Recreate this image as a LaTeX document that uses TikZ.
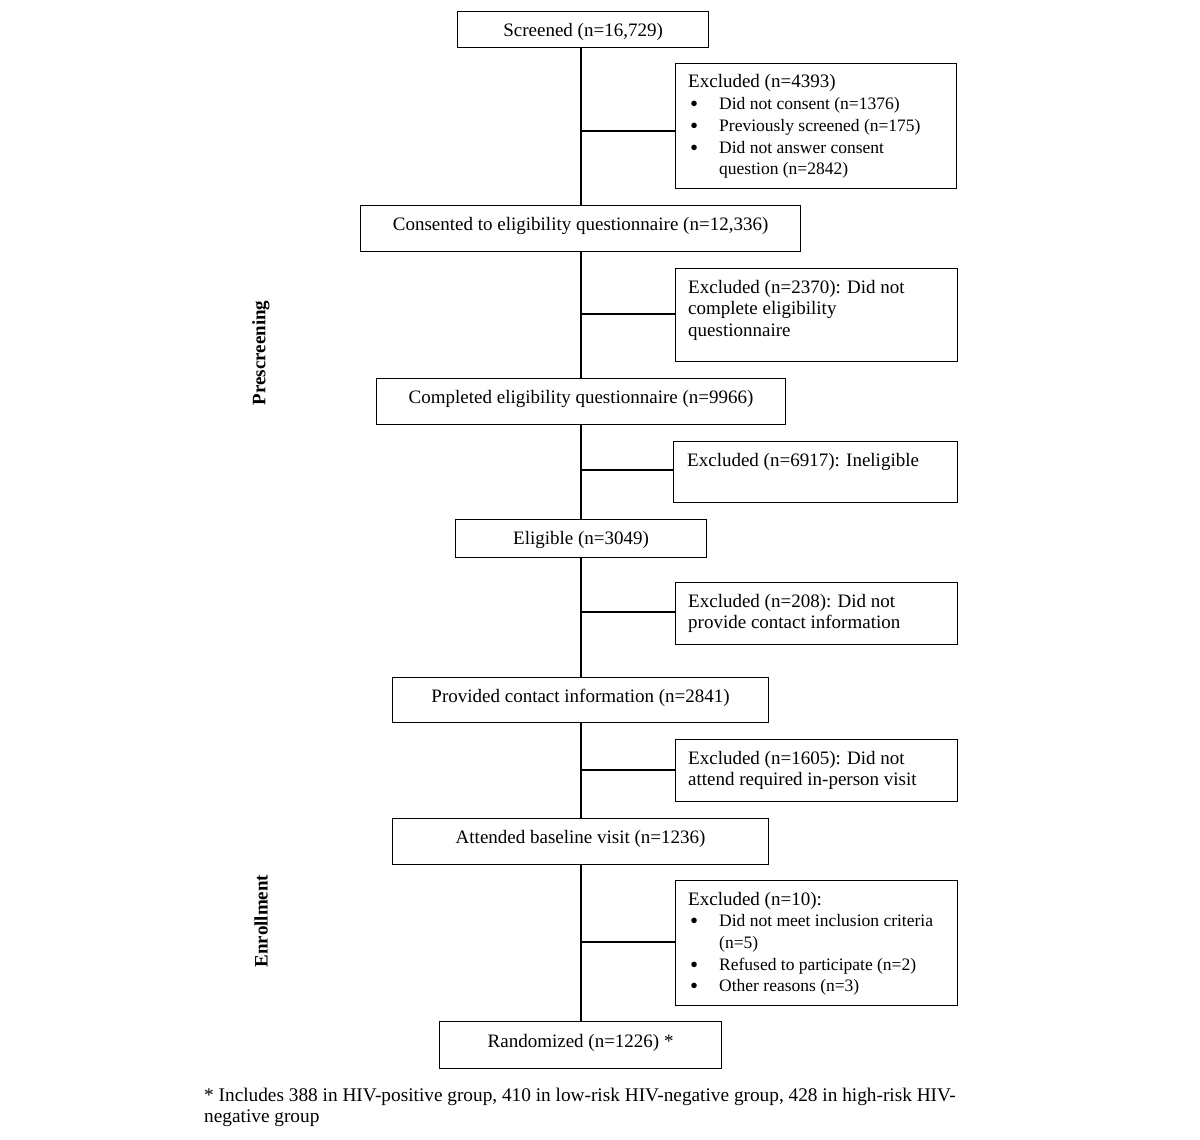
\documentclass[tikz,border=0pt]{standalone}
\usepackage{fontspec}
\setmainfont{Liberation Serif}
\begin{document}
\fontsize{19}{21.7}\selectfont
\begin{tikzpicture}[x=1pt,y=1pt,
  box/.style={draw, line width=1.2pt, inner sep=0pt, anchor=north west},
  txt/.style={inner sep=0pt, anchor=base west},
  ctxt/.style={inner sep=0pt, anchor=base},
  ln/.style={line width=1.2pt},
  side/.style={inner sep=0pt, rotate=90, font=\bfseries}]
\useasboundingbox (0,0) rectangle (1200,-1140);
\newcommand{\bul}[1]{\hspace*{2pt}\makebox[29pt][l]{\raisebox{-2pt}{\fontsize{23}{21.7}\selectfont\textbullet}}{\fontsize{17.5}{21.7}\selectfont #1}}
\newcommand{\cont}[1]{\hspace*{31pt}{\fontsize{17.5}{21.7}\selectfont #1}}
\coordinate (ax) at (581,0);
% main boxes
\node[box, minimum width=251pt, minimum height=36pt] (s) at (457,-11) {};
\node[box, minimum width=440pt, minimum height=46pt] (c) at (360,-205) {};
\node[box, minimum width=409pt, minimum height=46pt] (p) at (376,-378) {};
\node[box, minimum width=251pt, minimum height=38pt] (el) at (455,-519) {};
\node[box, minimum width=376pt, minimum height=45pt] (pc) at (392,-677) {};
\node[box, minimum width=376pt, minimum height=46pt] (ab) at (392,-818) {};
\node[box, minimum width=282pt, minimum height=47pt] (r) at (439,-1021) {};
% excluded boxes
\node[box, minimum width=281pt, minimum height=125pt] (e1) at (675,-63) {};
\node[box, minimum width=282pt, minimum height=93pt] (e2) at (675,-268) {};
\node[box, minimum width=284pt, minimum height=61pt] (e3) at (673,-441) {};
\node[box, minimum width=282pt, minimum height=62pt] (e4) at (675,-582) {};
\node[box, minimum width=282pt, minimum height=62pt] (e5) at (675,-739) {};
\node[box, minimum width=282pt, minimum height=125pt] (e6) at (675,-880) {};
% main texts
\node[ctxt] (st) at ([yshift=-26pt]s.north) {Screened (n=16,729)};
\node[ctxt] (ct) at ([yshift=-25.5pt]c.north) {Consented to eligibility questionnaire (n=12,336)};
\node[ctxt] (pt) at ([yshift=-25.5pt]p.north) {Completed eligibility questionnaire (n=9966)};
\node[ctxt] (elt) at ([yshift=-25.5pt]el.north) {Eligible (n=3049)};
\node[ctxt] (pct) at ([yshift=-25.5pt]pc.north) {Provided contact information (n=2841)};
\node[ctxt] (abt) at ([yshift=-25.5pt]ab.north) {Attended baseline visit (n=1236)};
\node[ctxt] (rt) at ([yshift=-26pt]r.north) {Randomized (n=1226) *};
% excluded texts
\node[txt] (e1t) at ([xshift=13pt,yshift=-25pt]e1.north west) {\parbox[t]{270pt}{Excluded (n=4393)\\
\bul{Did not consent (n=1376)}\\
\bul{Previously screened (n=175)}\\
\bul{Did not answer consent}\\
\cont{question (n=2842)}}};
\node[txt] (e2t) at ([xshift=13pt,yshift=-25pt]e2.north west) {\parbox[t]{270pt}{Excluded (n=2370): Did not\\complete eligibility\\questionnaire}};
\node[txt] (e3t) at ([xshift=14pt,yshift=-25pt]e3.north west) {\parbox[t]{270pt}{Excluded (n=6917): Ineligible}};
\node[txt] (e4t) at ([xshift=13pt,yshift=-25pt]e4.north west) {\parbox[t]{270pt}{Excluded (n=208): Did not\\provide contact information}};
\node[txt] (e5t) at ([xshift=13pt,yshift=-25pt]e5.north west) {\parbox[t]{270pt}{Excluded (n=1605): Did not\\attend required in-person visit}};
\node[txt] (e6t) at ([xshift=13pt,yshift=-25pt]e6.north west) {\parbox[t]{270pt}{Excluded (n=10):\\
\bul{Did not meet inclusion criteria}\\
\cont{(n=5)}\\
\bul{Refused to participate (n=2)}\\
\bul{Other reasons (n=3)}}};
% vertical connectors
\draw[ln] (ax |- s.south) -- (ax |- c.north);
\draw[ln] (ax |- c.south) -- (ax |- p.north);
\draw[ln] (ax |- p.south) -- (ax |- el.north);
\draw[ln] (ax |- el.south) -- (ax |- pc.north);
\draw[ln] (ax |- pc.south) -- (ax |- ab.north);
\draw[ln] (ax |- ab.south) -- (ax |- r.north);
% branches
\coordinate (b1) at (581,-131);
\coordinate (b2) at (581,-314);
\coordinate (b3) at (581,-470);
\coordinate (b4) at (581,-612);
\coordinate (b5) at (581,-770);
\coordinate (b6) at (581,-942);
\draw[ln] (b1) -- (b1 -| e1.west);
\draw[ln] (b2) -- (b2 -| e2.west);
\draw[ln] (b3) -- (b3 -| e3.west);
\draw[ln] (b4) -- (b4 -| e4.west);
\draw[ln] (b5) -- (b5 -| e5.west);
\draw[ln] (b6) -- (b6 -| e6.west);
% side labels
\node[side] (pre) at (261,-353) {Prescreening};
\node[side] (enr) at (261,-921) {Enrollment};
% footnote
\node[txt] (fn) at (204,-1101) {\parbox[t]{800pt}{\fontsize{19.3}{21.7}\selectfont * Includes 388 in HIV-positive group, 410 in low-risk HIV-negative group, 428 in high-risk HIV-\\negative group}};
\end{tikzpicture}
\end{document}
